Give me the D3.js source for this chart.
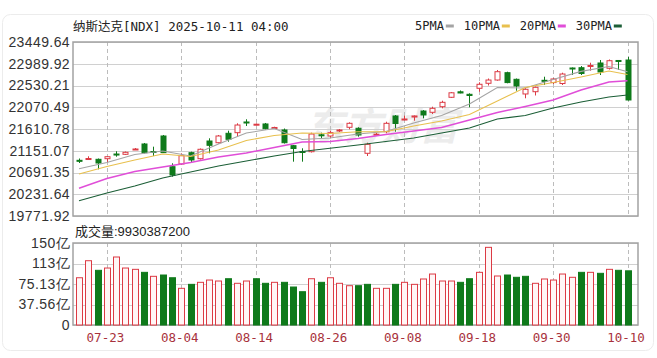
<!DOCTYPE html>
<html>
<head>
<meta charset="utf-8">
<script src="https://cdn.jsdelivr.net/npm/d3@7"></script>
<style>
  body { margin: 0; background: #fff; }
  svg { display: block; }
  .ylab text { font-family: "Liberation Sans", Arial, sans-serif; font-size: 14px; fill: #333; letter-spacing: 0.4px; }
  .xlab text { font-family: "DejaVu Sans Mono", "Liberation Mono", monospace; font-size: 12.5px; fill: #a8323c; }
</style>
</head>
<body>
<svg id="chart" width="657" height="358"></svg>
<script>
// [DATA]
const dates = ['07-18','07-21','07-22','07-23','07-24','07-25','07-28','07-29','07-30','07-31',
  '08-01','08-04','08-05','08-06','08-07','08-08','08-11','08-12','08-13','08-14',
  '08-15','08-18','08-19','08-20','08-21','08-22','08-25','08-26','08-27','08-28','08-29',
  '09-02','09-03','09-04','09-05','09-08','09-09','09-10','09-11','09-12','09-15',
  '09-16','09-17','09-18','09-19','09-22','09-23','09-24','09-25','09-26','09-29','09-30',
  '10-01','10-02','10-03','10-06','10-07','10-08','10-09','10-10'];

const opens  = [20949,20966,20970,20983,21082,21076,21178,21294,21135,21463,
  20814,20871,21110,20983,21357,21321,21520,21533,21759,21700,
  21717,21632,21590,21258,21135,21131,21488,21463,21569,21647,21626,
  21097,21488,21554,21886,21801,21864,21991,21964,22082,22281,
  22397,22344,22471,22577,22646,22801,22661,22351,22399,22640,22592,
  22572,22900,22906,22932,23006,22894,23059,23069];
const highs  = [20987,21034,20987,21040,21140,21135,21209,21315,21237,21484,
  20886,21097,21131,21199,21414,21484,21575,21731,21816,21727,
  21738,21659,21621,21273,21203,21533,21533,21575,21611,21752,21647,
  21321,21526,21765,21907,21892,21896,22012,22082,22209,22393,
  22425,22365,22598,22678,22858,22822,22678,22492,22509,22716,22689,
  22801,22911,22942,23012,23069,23080,23063,23133];
const lows   = [20892,20960,20759,20907,21025,21061,21167,21093,21040,21110,
  20603,20850,20899,20966,21097,21304,21342,21448,21674,21685,
  21600,21621,21304,20920,20920,21114,21414,21414,21547,21604,21448,
  21040,21463,21520,21554,21795,21786,21837,21928,22048,22266,
  22365,22070,22399,22530,22632,22577,22420,22260,22319,22541,22562,
  22541,22752,22752,22843,22752,22868,22858,22213];
const closes = [20934,20987,20892,21025,21072,21118,21188,21110,21120,21112,
  20639,21047,20956,21182,21266,21463,21393,21695,21748,21712,
  21617,21643,21321,21199,21114,21505,21473,21533,21590,21731,21484,
  21287,21501,21731,21727,21822,21886,21907,22048,22175,22376,
  22372,22319,22556,22646,22822,22592,22520,22450,22492,22625,22668,
  22773,22890,22784,22953,22816,23054,23048,22224];

// volume in 亿 (1e8)
const volumes = [86.6,117.8,100.2,104.4,124.6,104.4,102,96.5,89.2,91.6,
  86.6,67.2,74.5,78.2,82.4,80.6,84.8,76.4,80.6,84.8,
  76.4,78.2,78.2,69.6,61,84.8,78.2,86.6,76.4,72,72,
  74.5,67.2,67.2,74.5,78.2,74.5,84.3,93.4,80.6,80.6,
  78.2,84.8,96.5,142.3,89.8,91.6,87.4,89.2,76.4,84.3,82.4,
  93.4,87.4,96.5,96.5,94.7,102,100.2,99.3];

// moving averages at every 3rd session
const maDays = [0,3,6,9,12,15,18,21,24,27,30,33,36,39,42,45,48,51,54,57,59];
const ma5  = [20770,20903,21072,21146,21040,21294,21526,21621,21389,21421,21505,21558,21738,21896,22139,22488,22477,22657,22828,22932,22822];
const ma10 = [20660,20818,20956,21082,21030,21167,21368,21473,21526,21516,21554,21554,21674,21780,21917,22203,22488,22594,22710,22837,22763];
const ma20 = [20357,20565,20713,20808,20903,21019,21104,21220,21336,21347,21410,21495,21569,21643,21801,21960,22086,22224,22435,22604,22632];
const ma30 = [20095,20258,20406,20575,20702,20829,20934,21040,21135,21203,21273,21347,21421,21526,21632,21822,21896,22055,22182,22287,22329];

const maNames = ['5PMA','10PMA','20PMA','30PMA'];
const maColors = ['#a4a4a4','#e8c04e','#e04ed8','#1b5e36'];

const priceTicks = [19771.92,20231.64,20691.35,21151.07,21610.78,22070.49,22530.21,22989.92,23449.64];
const volTicks = [0,37.56,75.13,112.69,150.26];
const volTickLabels = ['0','37.56亿','75.13亿','113亿','150亿'];
const dateTicks = ['07-23','08-04','08-14','08-26','09-08','09-18','09-30','10-10'];

const RED = '#dc3a44';
const GREEN = '#0f7a1b';

// [LAYOUT]
const svg = d3.select('#chart');
const L = 73, R = 638;
const mainTop = 42, mainBot = 216;
const volTop = 243, volBot = 325;

const x = d3.scalePoint().domain(dates).range([79, 627.5]);
const y = d3.scaleLinear().domain([priceTicks[0], priceTicks[8]]).range([mainBot, mainTop]);
const yv = d3.scaleLinear().domain([0, volTicks[4]]).range([volBot, volTop]);

// card outline
svg.append('rect').attr('x', 2.5).attr('y', 14.5).attr('width', 651).attr('height', 336)
  .attr('rx', 8).attr('fill', '#fff').attr('stroke', '#ececec');

// title
svg.append('text').attr('x', 73).attr('y', 31)
  .style('font-family', '"DejaVu Sans Mono", "Noto Sans CJK SC", monospace')
  .style('font-size', '12.5px').style('fill', '#222')
  .text('纳斯达克[NDX] 2025-10-11 04:00');

// legend
let lx = 415;
maNames.forEach((name, i) => {
  svg.append('text').attr('x', lx).attr('y', 30)
    .style('font-family', '"DejaVu Sans Mono", monospace').style('font-size', '12px').style('fill', '#222')
    .text(name);
  lx += name.length * 7.2 + 2;
  svg.append('rect').attr('x', lx).attr('y', 24.5).attr('width', 8).attr('height', 3).attr('fill', maColors[i]);
  lx += 18;
});

// watermark
svg.append('text').attr('x', 382).attr('y', 140).attr('text-anchor', 'middle')
  .style('font-family', '"Noto Sans CJK SC", sans-serif').style('font-size', '38px')
  .style('font-weight', 'bold').style('font-style', 'italic').style('fill', '#ececec')
  .text('东方财富');

// grids, drawn as plain lines from the scales
function drawGrid(scale, ticks, top, bot) {
  const g = svg.append('g');
  g.selectAll('line.h').data(ticks).join('line').attr('class', 'h')
    .attr('x1', L).attr('x2', R)
    .attr('y1', d => Math.round(scale(d)) + 0.5).attr('y2', d => Math.round(scale(d)) + 0.5)
    .attr('stroke', '#d0d0d0');
  g.selectAll('line.v').data(dateTicks).join('line').attr('class', 'v')
    .attr('x1', d => Math.round(x(d)) + 0.5).attr('x2', d => Math.round(x(d)) + 0.5)
    .attr('y1', top).attr('y2', bot)
    .attr('stroke', '#bcbcbc').attr('stroke-dasharray', '4,3');
  g.append('rect').attr('x', L).attr('y', top).attr('width', R - L).attr('height', bot - top)
    .attr('fill', 'none').attr('stroke', '#a2a2a2').attr('stroke-width', 1.5);
}
drawGrid(y, priceTicks, mainTop, mainBot);
drawGrid(yv, volTicks, volTop, volBot);

// y labels
svg.append('g').attr('class', 'ylab').attr('transform', `translate(${L},0)`)
  .call(d3.axisLeft(y).tickValues(priceTicks).tickSize(0).tickPadding(3).tickFormat(d3.format('.2f')))
  .call(g => g.select('.domain').remove());
svg.append('g').attr('class', 'ylab').attr('transform', `translate(${L},0)`)
  .call(d3.axisLeft(yv).tickValues(volTicks).tickSize(0).tickPadding(3).tickFormat((d, i) => volTickLabels[i]))
  .call(g => g.select('.domain').remove());

// x labels
svg.append('g').attr('class', 'xlab').attr('transform', `translate(-2,${volBot})`)
  .call(d3.axisBottom(x).tickValues(dateTicks).tickSize(0).tickPadding(8))
  .call(g => g.select('.domain').remove());

// volume title
svg.append('text').attr('x', 75).attr('y', 236)
  .style('font-family', '"Liberation Sans", "Noto Sans CJK SC", sans-serif').style('font-size', '13px').style('fill', '#222')
  .text('成交量:9930387200');

// [CANDLES]
const data = dates.map((d, i) => ({
  date: d, open: opens[i], high: highs[i], low: lows[i], close: closes[i],
  vol: volumes[i], volUp: i === 0 || closes[i] >= closes[i - 1]
}));

const cx = d => Math.round(x(d.date));

const candles = svg.append('g');
candles.selectAll('line').data(data).join('line')
  .attr('x1', d => cx(d) + 0.5).attr('x2', d => cx(d) + 0.5)
  .attr('y1', d => y(d.high)).attr('y2', d => y(d.low))
  .attr('stroke', d => d.close >= d.open ? RED : GREEN);

candles.selectAll('rect').data(data).join('rect')
  .attr('x', d => cx(d) - 2)
  .attr('y', d => y(Math.max(d.open, d.close)))
  .attr('width', 5)
  .attr('height', d => Math.max(1, Math.abs(y(d.open) - y(d.close))))
  .attr('fill', d => d.close >= d.open ? '#fff' : GREEN)
  .attr('stroke', d => d.close >= d.open ? RED : GREEN);

// moving average lines
const line = d3.line().x(d => x(dates[d.i])).y(d => y(d.v));
[ma5, ma10, ma20, ma30].forEach((vals, k) => {
  svg.append('path')
    .datum(vals.map((v, j) => ({ i: maDays[j], v: v })))
    .attr('d', line).attr('fill', 'none')
    .attr('stroke', maColors[k]).attr('stroke-width', k === 2 ? 1.5 : 1.1);
});

// [VOLUME]
svg.append('g').selectAll('rect').data(data).join('rect')
  .attr('x', d => cx(d) - 2.5)
  .attr('y', d => yv(d.vol))
  .attr('width', 6)
  .attr('height', d => volBot - yv(d.vol))
  .attr('fill', d => d.volUp ? '#fff6f6' : GREEN)
  .attr('stroke', d => d.volUp ? RED : GREEN);
</script>
</body>
</html>
